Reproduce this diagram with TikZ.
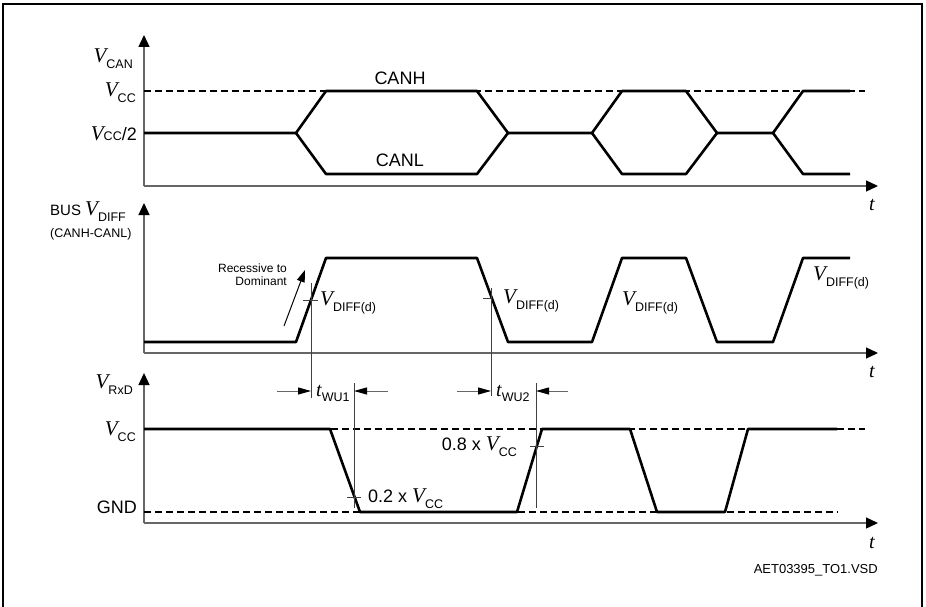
\documentclass[tikz,border=0pt]{standalone}
\usepackage{fontspec}
\setmainfont{Liberation Sans}
\newfontfamily\serfam{Liberation Serif}
\usetikzlibrary{arrows.meta}
\newcommand\Vit{{\fontsize{21}{21}\selectfont\serfam\itshape V}}
\newcommand\tit{{\fontsize{20}{20}\selectfont\serfam\itshape t}}
\newcommand\sub[1]{\raisebox{-6pt}{\fontsize{12.5}{12.5}\selectfont #1}}
\newcommand\subz[1]{{\fontsize{12.5}{12.5}\selectfont #1}}
\begin{document}
\begin{tikzpicture}[x=1pt,y=-1pt,
  axis/.style={draw=black!60, line width=1.3pt, -{Triangle[length=12pt,width=11pt,color=black]}},
  sig/.style={line width=2.6pt, line join=round},
  dsh/.style={line width=1.3pt, dash pattern=on 7pt off 4pt},
  thinl/.style={line width=1pt, draw=black!75},
  sarr/.style={line width=1pt, draw=black!60, -{Triangle[length=13pt,width=7pt,color=black]}},
  lbl/.style={font=\fontsize{18}{18}\selectfont, inner sep=0pt},
  small/.style={font=\fontsize{12.5}{12.5}\selectfont, inner sep=0pt}]
\useasboundingbox (0,0) rectangle (926,607);
\fill[white] (0,0) rectangle (926,607);
% frame
\draw[line width=1.2pt] (3,610) -- (3,4) -- (922,4) -- (922,610);

% ---------- top panel ----------
\coordinate (o1) at (144,186);
\coordinate (y1) at (144,35);
\coordinate (x1) at (878,186);
\draw[axis] (o1) -- (y1);
\draw[axis] (o1) -- (x1);
\coordinate (d1a) at (144,91);
\coordinate (d1b) at (865,91);
\draw[dsh] (d1a) -- (d1b);
\draw[sig] (144,133) -- (296,133) -- (326,91) -- (477,91) -- (508,133) -- (592,133) -- (622,91) -- (686,91) -- (717,133) -- (773,133) -- (803,91) -- (850,91);
\draw[sig] (296,133) -- (326,174) -- (477,174) -- (508,133);
\draw[sig] (592,133) -- (622,174) -- (686,174) -- (717,133);
\draw[sig] (773,133) -- (803,174) -- (850,174);
\node[lbl, anchor=base east] (lvcan) at (133,63) {\Vit\sub{CAN}};
\node[lbl, anchor=base east] (lvcc1) at (136,97) {\Vit\sub{CC}};
\node[lbl, anchor=base east] (lvcc2) at (137,140) {\Vit\subz{CC}/2};
\node[lbl, anchor=base] (lcanh) at (400,85) {CANH};
\node[lbl, anchor=base] (lcanl) at (400,166) {CANL};
\node[lbl, anchor=base] (lt1) at (872,210) {\tit};

% ---------- middle panel ----------
\coordinate (o2) at (144,353);
\coordinate (y2) at (144,203);
\coordinate (x2) at (878,353);
\draw[axis] (o2) -- (y2);
\draw[axis] (o2) -- (x2);
\draw[sig] (144,342) -- (296,342) -- (326,258) -- (477,258) -- (508,342) -- (592,342) -- (622,258) -- (686,258) -- (717,342) -- (773,342) -- (803,258) -- (850,258);
\node[lbl, anchor=base west, font=\fontsize{15}{15}\selectfont] (lbus) at (50,215) {BUS \Vit\sub{DIFF}};
\node[small, anchor=base west] (lcc) at (50,237) {(CANH-CANL)};
\node[small, anchor=base east, font=\fontsize{12}{12}\selectfont] (lrec1) at (287,272) {Recessive to};
\node[small, anchor=base east, font=\fontsize{12}{12}\selectfont] (lrec2) at (287,285) {Dominant};
\coordinate (ra) at (284,326);
\coordinate (rb) at (305,270);
\draw[line width=1pt, -{Triangle[length=12pt,width=8pt]}] (ra) -- (rb);
% ticks & verticals
\coordinate (v1t) at (311,283);
\coordinate (v1b) at (311,398);
\draw[thinl] (v1t) -- (v1b);
\draw[thinl] (303,300) -- (318,300);
\coordinate (v2t) at (491,288);
\coordinate (v2b) at (491,396);
\draw[thinl] (v2t) -- (v2b);
\draw[thinl] (483,298) -- (492,298);
\node[lbl, anchor=base west] (ld1) at (320,305) {\Vit\sub{DIFF(d)}};
\node[lbl, anchor=base west] (ld2) at (503,303) {\Vit\sub{DIFF(d)}};
\node[lbl, anchor=base west] (ld3) at (622,305) {\Vit\sub{DIFF(d)}};
\node[lbl, anchor=base west] (ld4) at (813,280) {\Vit\sub{DIFF(d)}};
\node[lbl, anchor=base] (lt2) at (872,377) {\tit};

% ---------- bottom panel ----------
\coordinate (o3) at (144,523);
\coordinate (y3) at (144,373);
\coordinate (x3) at (878,523);
\draw[axis] (o3) -- (y3);
\draw[axis] (o3) -- (x3);
\draw[dsh] (144,429) -- (865,429);
\draw[dsh] (144,512) -- (838,512);
\draw[sig] (144,429) -- (330,429) -- (360,512) -- (517,512) -- (542,429) -- (630,429) -- (657,512) -- (725,512) -- (748,429) -- (837,429);
\coordinate (v3t) at (354,383);
\coordinate (v3b) at (354,508);
\draw[thinl] (v3t) -- (v3b);
\draw[thinl] (347,497) -- (361,497);
\coordinate (v4t) at (536,383);
\coordinate (v4b) at (536,508);
\draw[thinl] (v4t) -- (v4b);
\draw[thinl] (530,446) -- (544,446);
% t_WU arrows
\coordinate (a1) at (277,391);
\coordinate (a1e) at (311,391);
\coordinate (a2) at (388,391);
\coordinate (a2e) at (354,391);
\draw[sarr] (a1) -- (a1e);
\draw[sarr] (a2) -- (a2e);
\coordinate (b1) at (457,391);
\coordinate (b1e) at (491,391);
\coordinate (b2) at (568,391);
\coordinate (b2e) at (536,391);
\draw[sarr] (b1) -- (b1e);
\draw[sarr] (b2) -- (b2e);
\node[lbl, anchor=base west] (ltw1) at (316,396) {\tit\raisebox{-5pt}{\subz{WU1}}};
\node[lbl, anchor=base west] (ltw2) at (496,396) {\tit\raisebox{-5pt}{\subz{WU2}}};
\node[lbl, anchor=base east] (lvrxd) at (133,388) {\Vit\sub{RxD}};
\node[lbl, anchor=base east] (lvcc3) at (136,435) {\Vit\sub{CC}};
\node[lbl, anchor=base east] (lgnd) at (137,513) {GND};
\node[lbl, anchor=base west] (l02) at (368,502) {0.2 x \Vit\sub{CC}};
\node[lbl, anchor=base east] (l08) at (517,450) {0.8 x \Vit\sub{CC}};
\node[lbl, anchor=base] (lt3) at (872,548) {\tit};
\node[anchor=base east, inner sep=0pt, font=\fontsize{13}{13}\selectfont] (lfile) at (878,573) {AET03395\_TO1.VSD};
\end{tikzpicture}
\end{document}
